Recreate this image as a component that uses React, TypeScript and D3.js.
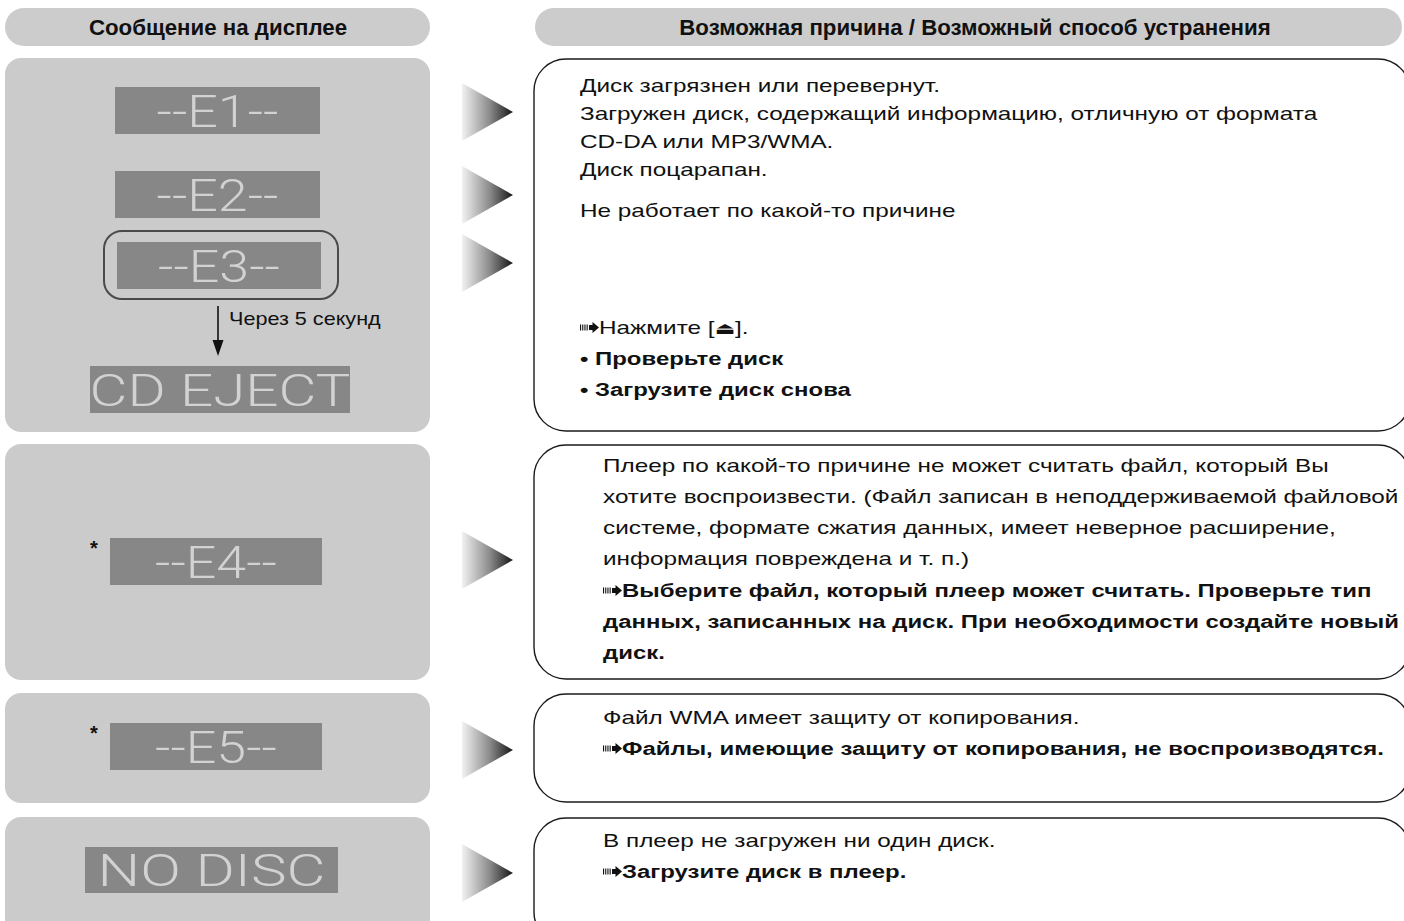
import React from "react";
import * as d3 from "d3";

// ---------- data (text content) ----------
const headerTitles = ["Сообщение на дисплее", "Возможная причина / Возможный способ устранения"];
const displayCodes = ["--E1--", "--E2--", "--E3--", "CD EJECT", "--E4--", "--E5--", "NO DISC"];
const starredCodes = ["--E4--", "--E5--"];
const transitionNote = "Через 5 секунд";

type Line = { t: string; b?: boolean; arrow?: boolean; eject?: boolean };
const causesDisc: Line[] = [
  { t: "Диск загрязнен или перевернут." },
  { t: "Загружен диск, содержащий информацию, отличную от формата" },
  { t: "CD-DA или MP3/WMA." },
  { t: "Диск поцарапан." },
  { t: "Не работает по какой-то причине" },
  { t: "Нажмите [", arrow: true, eject: true },
  { t: "• Проверьте диск", b: true },
  { t: "• Загрузите диск снова", b: true },
];
const causesFile: Line[] = [
  { t: "Плеер по какой-то причине не может считать файл, который Вы" },
  { t: "хотите воспроизвести. (Файл записан в неподдерживаемой файловой" },
  { t: "системе, формате сжатия данных, имеет неверное расширение," },
  { t: "информация повреждена и т. п.)" },
  { t: "Выберите файл, который плеер может считать. Проверьте тип", b: true, arrow: true },
  { t: "данных, записанных на диск. При необходимости создайте новый", b: true },
  { t: "диск.", b: true },
];
const causesWma: Line[] = [
  { t: "Файл WMA имеет защиту от копирования." },
  { t: "Файлы, имеющие защиту от копирования, не воспроизводятся.", b: true, arrow: true },
];
const causesNoDisc: Line[] = [
  { t: "В плеер не загружен ни один диск." },
  { t: "Загрузите диск в плеер.", b: true, arrow: true },
];

// ---------- layout ----------
const W = 1404, H = 921;
const rows = [
  { top: 58, bottom: 432 },
  { top: 444, bottom: 680 },
  { top: 693, bottom: 803 },
  { top: 817, bottom: 945 },
];
const causeBlocks = [
  { lines: causesDisc, x: 580, baselines: [92, 120, 148, 176, 217, 334, 365, 396] },
  { lines: causesFile, x: 603, baselines: [472, 503, 534, 565, 597, 628, 659] },
  { lines: causesWma, x: 603, baselines: [724, 755] },
  { lines: causesNoDisc, x: 603, baselines: [847, 878] },
];
const displays = [
  { x: 115, y: 87, w: 205, h: 47 },
  { x: 115, y: 171, w: 205, h: 47 },
  { x: 117, y: 242, w: 204, h: 47 },
  { x: 90, y: 366, w: 260, h: 47 },
  { x: 110, y: 538, w: 212, h: 47 },
  { x: 110, y: 723, w: 212, h: 47 },
  { x: 85, y: 847, w: 253, h: 46 },
];
const pointerYs = [112, 195, 263, 560, 750, 873];

const BODY_FONT = "'Liberation Sans', Arial, Helvetica, sans-serif";
const SX_REG = 1.28;
const SX_BOLD = 1.26;

function roundedBox(x0: number, y0: number, x1: number, y1: number, r: number) {
  const p = d3.path();
  p.moveTo(x0 + r, y0);
  p.lineTo(x1 - r, y0);
  p.arcTo(x1, y0, x1, y0 + r, r);
  p.lineTo(x1, y1 - r);
  p.arcTo(x1, y1, x1 - r, y1, r);
  p.lineTo(x0 + r, y1);
  p.arcTo(x0, y1, x0, y1 - r, r);
  p.lineTo(x0, y0 + r);
  p.arcTo(x0, y0, x0 + r, y0, r);
  p.closePath();
  return p.toString();
}

function lcdLength(s: string) {
  return d3.sum(s.split(""), (c) => (c === "-" ? 14 : c === " " ? 30 : 33));
}

function DashArrow({ x, y }: { x: number; y: number }) {
  const cy = y - 6.5;
  const bars = d3.range(4);
  return (
    <g fill="#111">
      {bars.map((i) => (
        <rect key={i} x={x + i * 2.2} y={cy - 3} width={1.1} height={6} />
      ))}
      <rect x={x + 9} y={cy - 2.5} width={4} height={5} />
      <path d={`M${x + 12.5},${cy - 5.5} L${x + 19},${cy} L${x + 12.5},${cy + 5.5} Z`} />
    </g>
  );
}

export default function App() {
  const leftX0 = 5, leftX1 = 430;
  const boxX0 = 534, boxX1 = 1410;
  return (
    <svg
      width={W}
      height={H}
      viewBox={`0 0 ${W} ${H}`}
      style={{ position: "absolute", left: 0, top: 0, background: "#fff" }}
    >
      <defs>
        <linearGradient id="ptr" x1="0" x2="1" y1="0" y2="0">
          <stop offset="0" stopColor="#f2f2f2" />
          <stop offset="0.55" stopColor="#8a8a8a" />
          <stop offset="1" stopColor="#141414" />
        </linearGradient>
      </defs>

      {/* headers */}
      <path d={roundedBox(leftX0, 8, leftX1, 46, 19)} fill="#cccccc" />
      <path d={roundedBox(535, 8, 1402, 46, 19)} fill="#cccccc" />
      <text
        transform={`translate(218,34.5) scale(0.99,1)`}
        textAnchor="middle"
        fontFamily={BODY_FONT}
        fontWeight="bold"
        fontSize={22.5}
        fill="#111"
      >
        {headerTitles[0]}
      </text>
      <text
        transform={`translate(975,34.5) scale(0.99,1)`}
        textAnchor="middle"
        fontFamily={BODY_FONT}
        fontWeight="bold"
        fontSize={22.5}
        fill="#111"
      >
        {headerTitles[1]}
      </text>

      {/* left panels */}
      {rows.map((r, i) => (
        <path key={i} d={roundedBox(leftX0, r.top, leftX1, r.bottom, 16)} fill="#cbcbcb" />
      ))}

      {/* right boxes */}
      {rows.map((r, i) => (
        <path
          key={i}
          d={roundedBox(boxX0, r.top + 1, boxX1, r.bottom - 1, 32)}
          fill="#fff"
          stroke="#1a1a1a"
          strokeWidth={1.4}
        />
      ))}

      {/* highlight outline around E3 */}
      <path d={roundedBox(104, 231, 338, 299, 18)} fill="none" stroke="#4a4a4a" strokeWidth={2} />

      {/* displays */}
      {displayCodes.map((code, i) => {
        const d = displays[i];
        return (
          <g key={code}>
            <rect x={d.x} y={d.y} width={d.w} height={d.h} fill="#878787" />
            <text
              x={d.x + d.w / 2}
              y={d.y + d.h - 7}
              textAnchor="middle"
              fontFamily="Roboto, 'Noto Sans', sans-serif"
              fontWeight={300}
              fontSize={44}
              fill="#d8d8d8"
              fillOpacity={0.92}
              textLength={lcdLength(code)}
              lengthAdjust="spacingAndGlyphs"
            >
              {code}
            </text>
            {starredCodes.includes(code) && (
              <text x={d.x - 20} y={d.y + 17} fontFamily={BODY_FONT} fontWeight="bold" fontSize={20} fill="#111">
                *
              </text>
            )}
          </g>
        );
      })}

      {/* transition arrow */}
      <line x1={218} y1={306} x2={218} y2={343} stroke="#111" strokeWidth={1.6} />
      <path d="M212.5,340 L223.5,340 L218,356 Z" fill="#111" />
      <text transform={`translate(229,325) scale(1.2,1)`} fontFamily={BODY_FONT} fontSize={18} fill="#111">
        {transitionNote}
      </text>

      {/* pointers */}
      {pointerYs.map((y, i) => (
        <path key={i} d={`M462,${y - 29} L513,${y} L462,${y + 29} Z`} fill="url(#ptr)" />
      ))}

      {/* cause texts */}
      {causeBlocks.map((blk, bi) =>
        blk.lines.map((ln, li) => {
          const y = blk.baselines[li];
          const tx = blk.x + (ln.arrow ? 19 : 0);
          return (
            <g key={`${bi}-${li}`}>
              {ln.arrow && <DashArrow x={blk.x} y={y} />}
              <text
                transform={`translate(${tx},${y}) scale(${ln.b ? SX_BOLD : SX_REG},1)`}
                fontFamily={BODY_FONT}
                fontWeight={ln.b ? "bold" : "normal"}
                fontSize={19}
                fill="#111"
              >
                {ln.t}
                {ln.eject && (
                  <>
                    <tspan fontFamily="'DejaVu Sans', sans-serif" fontSize={17}>⏏</tspan>
                    <tspan>].</tspan>
                  </>
                )}
              </text>
            </g>
          );
        })
      )}
    </svg>
  );
}
